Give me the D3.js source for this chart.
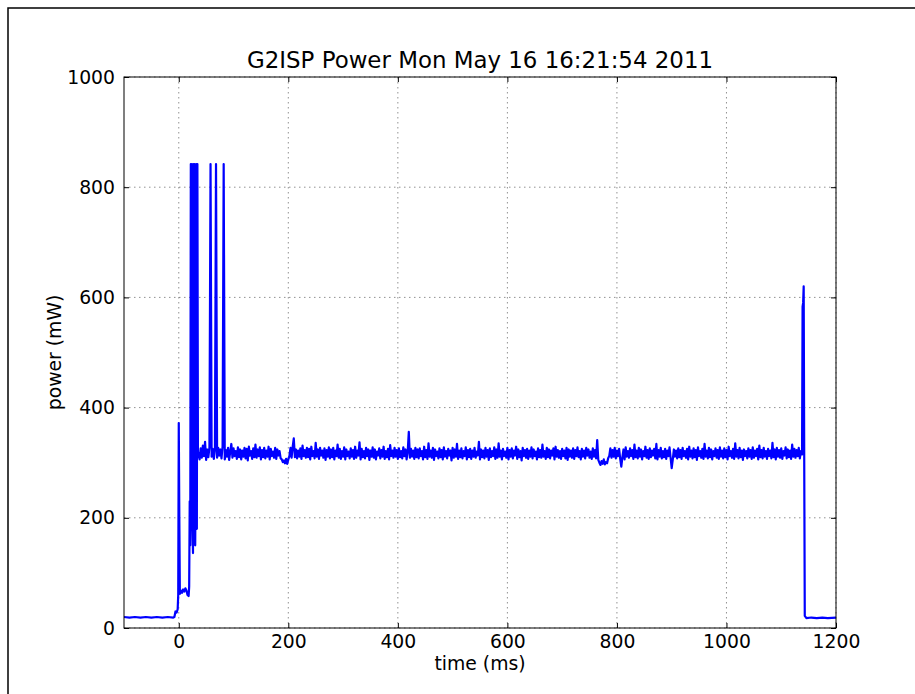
<!DOCTYPE html>
<html lang="en">
<head>
  <meta charset="UTF-8">
  <title>G2ISP Power</title>
  <script src="https://d3js.org/d3.v7.min.js"></script>
  <style>
    body { margin: 0; background: #fff; }
    text { font-family: "DejaVu Sans", sans-serif; fill: #000; }
  </style>
</head>
<body>
<div id="chart"></div>
<script>
// ---- data ----
const titleText = "G2ISP Power Mon May 16 16:21:54 2011";
const xDomain = [-100, 1200];
const yDomain = [0, 1000];
const xTicks = [0, 200, 400, 600, 800, 1000, 1200];
const yTicks = [0, 200, 400, 600, 800, 1000];

// start-up: [time ms, power mW]
const startupSamples = [
  [-100, 20], [-90, 19], [-80, 20], [-70, 19], [-60, 20], [-50, 19], [-40, 20], [-30, 19],
  [-20, 20], [-10, 19], [-8, 20], [-6, 30], [-4, 28], [-2, 34], [-1, 60], [0, 372],
  [1, 200], [2, 62], [4, 68], [6, 64], [8, 70], [10, 66], [12, 72], [14, 68], [16, 60],
  [18, 58], [19, 75], [20, 230], [21, 150], [22, 842], [23, 200], [24, 842], [25, 180],
  [26, 136], [27, 842], [28, 160], [29, 842], [30, 150], [31, 320], [32, 842], [33, 180],
  [34, 842], [35, 310]
];

// steady part, one sample every 2 ms from t = 36
const steadyStart = 36;
const steadyStep = 2;
const steadyValues = [
  318, 306, 326, 309, 331, 312, 338, 305, 324, 310, 328, 842, 311, 325, 307, 322, 842, 309, 327, 313,
  324, 308, 329, 842, 306, 323, 311, 327, 305, 320, 334, 309, 326, 312, 321, 307, 328, 310, 324, 306,
  322, 311, 327, 308, 325, 304, 329, 313, 321, 307, 326, 310, 333, 309, 324, 312, 328, 306, 323, 310,
  327, 308, 322, 311, 329, 306, 325, 312, 320, 309, 327, 307, 324, 313, 321, 308, 306, 301, 304, 299,
  307, 298, 306, 312, 327, 309, 329, 344, 310, 324, 308, 322, 311, 326, 307, 331, 312, 323, 309, 327,
  310, 325, 306, 329, 312, 321, 308, 336, 311, 324, 307, 327, 313, 322, 309, 326, 305, 323, 311, 328,
  308, 324, 310, 327, 306, 322, 312, 333, 309, 325, 307, 321, 311, 328, 306, 324, 312, 320, 308, 326,
  311, 323, 307, 329, 309, 322, 313, 337, 306, 325, 310, 321, 308, 327, 312, 324, 305, 322, 311, 328,
  309, 324, 306, 320, 313, 326, 308, 323, 311, 329, 307, 321, 310, 325, 306, 332, 312, 322, 309, 327,
  311, 323, 307, 326, 310, 321, 308, 328, 312, 324, 306, 320, 356, 309, 325, 311, 322, 307, 327, 310,
  324, 308, 326, 312, 321, 306, 329, 310, 323, 307, 335, 311, 322, 309, 327, 305, 324, 312, 320, 308,
  326, 310, 323, 306, 328, 311, 321, 308, 325, 313, 322, 304, 327, 309, 324, 311, 334, 307, 322, 310,
  326, 308, 321, 312, 328, 306, 323, 310, 325, 307, 322, 311, 327, 309, 320, 313, 338, 306, 324, 310,
  322, 308, 327, 311, 323, 305, 326, 310, 321, 312, 328, 307, 324, 309, 335, 311, 322, 306, 325, 312,
  320, 309, 327, 306, 323, 311, 326, 308, 322, 313, 329, 307, 324, 310, 321, 304, 327, 312, 323, 309,
  325, 307, 322, 311, 328, 308, 324, 312, 320, 306, 326, 310, 323, 309, 333, 311, 321, 307, 327, 310,
  324, 308, 322, 313, 326, 306, 329, 311, 323, 309, 321, 307, 325, 312, 322, 308, 327, 305, 324, 311,
  322, 309, 326, 307, 323, 312, 328, 310, 321, 306, 325, 311, 322, 308, 327, 313, 324, 309, 320, 307,
  326, 311, 323, 308, 341, 305, 300, 296, 303, 298, 306, 297, 301, 299, 308, 312, 326, 309, 323, 311,
  327, 308, 322, 312, 325, 307, 293, 310, 324, 306, 328, 311, 321, 309, 326, 312, 323, 307, 333, 310,
  322, 308, 327, 311, 324, 306, 321, 312, 329, 309, 323, 307, 326, 310, 322, 313, 325, 308, 334, 306,
  323, 311, 327, 308, 321, 310, 325, 307, 322, 312, 328, 309, 290, 306, 324, 311, 322, 308, 326, 310,
  323, 307, 327, 312, 321, 309, 325, 306, 329, 311, 322, 308, 326, 310, 323, 305, 328, 312, 321, 309,
  325, 307, 334, 311, 322, 308, 327, 310, 324, 306, 321, 312, 326, 309, 323, 307, 328, 311, 322, 308,
  326, 310, 323, 306, 329, 312, 321, 309, 325, 307, 335, 311, 323, 308, 327, 310, 322, 305, 324, 312,
  321, 308, 326, 311, 323, 307, 328, 309, 322, 312, 325, 306, 331, 310, 323, 308, 327, 311, 321, 307,
  325, 312, 322, 308, 336, 310, 324, 306, 327, 311, 323, 309, 326, 307, 321, 313, 328, 308, 324, 310,
  322, 307, 333, 311, 325, 309, 323, 312, 327, 308, 321
];

// shut-down: [time ms, power mW]
const endSamples = [
  [1138, 315], [1139, 583], [1140, 590], [1141, 620], [1142, 300], [1143, 22], [1146, 18],
  [1155, 19], [1165, 18], [1175, 19], [1185, 18], [1200, 19]
];

// ---- layout ----
const W = 915, H = 694;
const plot = { left: 124, top: 77, right: 836, bottom: 628 };

const samples = startupSamples
  .concat(steadyValues.map((v, i) => [steadyStart + i * steadyStep, v]))
  .concat(endSamples);

const x = d3.scaleLinear().domain(xDomain).range([plot.left, plot.right]);
const y = d3.scaleLinear().domain(yDomain).range([plot.bottom, plot.top]);

const svg = d3.select("#chart").append("svg")
  .attr("width", W)
  .attr("height", H);

svg.append("rect").attr("width", W).attr("height", H).attr("fill", "#fff");

// figure edge
svg.append("rect")
  .attr("x", 8).attr("y", 8)
  .attr("width", 1000).attr("height", 1000)
  .attr("fill", "none")
  .attr("stroke", "#000")
  .attr("stroke-width", 1.5);

// grid
const grid = svg.append("g")
  .attr("stroke", "#000")
  .attr("stroke-opacity", 0.55)
  .attr("stroke-width", 0.8)
  .attr("stroke-dasharray", "1.5,3.5");

grid.selectAll("line.gx")
  .data(xTicks)
  .join("line")
  .attr("class", "gx")
  .attr("x1", d => x(d)).attr("x2", d => x(d))
  .attr("y1", plot.top).attr("y2", plot.bottom);

grid.selectAll("line.gy")
  .data(yTicks)
  .join("line")
  .attr("class", "gy")
  .attr("x1", plot.left).attr("x2", plot.right)
  .attr("y1", d => y(d)).attr("y2", d => y(d));

// power trace
svg.append("defs").append("clipPath").attr("id", "clip")
  .append("rect")
  .attr("x", plot.left).attr("y", plot.top)
  .attr("width", plot.right - plot.left).attr("height", plot.bottom - plot.top);

svg.append("path")
  .datum(samples)
  .attr("clip-path", "url(#clip)")
  .attr("fill", "none")
  .attr("stroke", "#0000ff")
  .attr("stroke-width", 2.2)
  .attr("stroke-linejoin", "round")
  .attr("d", d3.line().x(d => x(d[0])).y(d => y(d[1])));

// axes frame
svg.append("rect")
  .attr("x", plot.left).attr("y", plot.top)
  .attr("width", plot.right - plot.left).attr("height", plot.bottom - plot.top)
  .attr("fill", "none")
  .attr("stroke", "#000")
  .attr("stroke-width", 1);

const tickFont = 18.8;

function styleAxis(g) {
  g.select(".domain").remove();
  g.selectAll(".tick line").attr("stroke", "#000").attr("stroke-width", 1);
  g.selectAll(".tick text")
    .style("font-family", '"DejaVu Sans", sans-serif')
    .style("font-size", tickFont + "px")
    .attr("fill", "#000");
}

svg.append("g")
  .attr("transform", `translate(0,${plot.bottom})`)
  .call(d3.axisBottom(x).tickValues(xTicks).tickSize(-5).tickPadding(7).tickFormat(d3.format("d")))
  .call(styleAxis);

svg.append("g")
  .attr("transform", `translate(0,${plot.top})`)
  .call(d3.axisTop(x).tickValues(xTicks).tickSize(-5).tickFormat(""))
  .call(styleAxis);

svg.append("g")
  .attr("transform", `translate(${plot.left},0)`)
  .call(d3.axisLeft(y).tickValues(yTicks).tickSize(-5).tickPadding(9).tickFormat(d3.format("d")))
  .call(styleAxis);

svg.append("g")
  .attr("transform", `translate(${plot.right},0)`)
  .call(d3.axisRight(y).tickValues(yTicks).tickSize(-5).tickFormat(""))
  .call(styleAxis);

// texts
svg.append("text")
  .attr("x", (plot.left + plot.right) / 2)
  .attr("y", 68)
  .attr("text-anchor", "middle")
  .style("font-size", "22.9px")
  .text(titleText);

svg.append("text")
  .attr("x", (plot.left + plot.right) / 2)
  .attr("y", 670)
  .attr("text-anchor", "middle")
  .style("font-size", "18.8px")
  .text("time (ms)");

svg.append("text")
  .attr("transform", `translate(61,${(plot.top + plot.bottom) / 2}) rotate(-90)`)
  .attr("text-anchor", "middle")
  .style("font-size", "18.8px")
  .text("power (mW)");
</script>
</body>
</html>
